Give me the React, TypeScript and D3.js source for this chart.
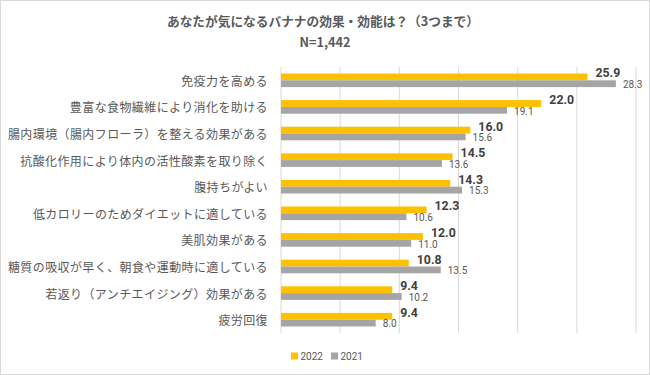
import React from "react";
import * as d3 from "d3";

const categories = [
  "免疫力を高める",
  "豊富な食物繊維により消化を助ける",
  "腸内環境（腸内フローラ）を整える効果がある",
  "抗酸化作用により体内の活性酸素を取り除く",
  "腹持ちがよい",
  "低カロリーのためダイエットに適している",
  "美肌効果がある",
  "糖質の吸収が早く、朝食や運動時に適している",
  "若返り（アンチエイジング）効果がある",
  "疲労回復",
];
const values2022 = [25.9, 22.0, 16.0, 14.5, 14.3, 12.3, 12.0, 10.8, 9.4, 9.4];
const values2021 = [28.3, 19.1, 15.6, 13.6, 15.3, 10.6, 11.0, 13.5, 10.2, 8.0];
const seriesNames = ["2022", "2021"];
const xTicks = [0, 5, 10, 15, 20, 25, 30];
const title = "あなたが気になるバナナの効果・効能は？（3つまで）";
const subtitle = "N=1,442";

const W = 650;
const H = 375;
const C2022 = "#FFC000";
const C2021 = "#A5A5A5";
const GRID = "#D9D9D9";
const TXT = "#595959";
const CJK = "'Noto Sans CJK JP', 'Noto Sans', sans-serif";
const NUM = "Roboto, 'Liberation Sans', sans-serif";

export default function App() {
  const x = d3.scaleLinear().domain([0, 30]).range([281, 636]);
  const y = d3.scaleBand<string>().domain(categories).range([67, 333]).paddingInner(0);
  const bh = 6.8;
  const fmt = d3.format(".1f");

  return (
    <svg
      width={W}
      height={H}
      style={{ position: "absolute", left: 0, top: 0, background: "#fff" }}
    >
      <rect x={0.5} y={0.5} width={W - 1} height={H - 1} fill="#fff" stroke={GRID} />
      <text
        x={323}
        y={20}
        textAnchor="middle"
        dominantBaseline="central"
        fontFamily={CJK}
        fontWeight="bold"
        fontSize={12.7}
        fill={TXT}
      >
        {title}
      </text>
      <text
        x={325}
        y={41}
        textAnchor="middle"
        dominantBaseline="central"
        fontFamily={CJK}
        fontWeight="bold"
        fontSize={12.7}
        fill={TXT}
      >
        {subtitle}
      </text>

      {xTicks.map((t) => (
        <line key={t} x1={x(t)} x2={x(t)} y1={67} y2={333} stroke={GRID} strokeWidth={1} />
      ))}

      {categories.map((c, i) => {
        const cy = (y(c) as number) + y.bandwidth() / 2;
        return (
          <g key={c}>
            <text
              x={268}
              y={cy}
              textAnchor="end"
              dominantBaseline="central"
              fontFamily={CJK}
              fontSize={12}
              letterSpacing={0.4}
              fill={TXT}
            >
              {c}
            </text>
            <rect x={x(0)} y={cy - bh} width={x(values2022[i]) - x(0)} height={bh} fill={C2022} />
            <rect x={x(0)} y={cy} width={x(values2021[i]) - x(0)} height={bh} fill={C2021} />
            <text
              x={x(values2022[i]) + 8}
              y={cy - bh / 2 - 3.5}
              dominantBaseline="central"
              fontFamily={NUM}
              fontWeight="bold"
              fontSize={12.3}
              fill="#404040"
            >
              {fmt(values2022[i])}
            </text>
            <text
              x={x(values2021[i]) + 7}
              y={cy + bh / 2 + 0.8}
              dominantBaseline="central"
              fontFamily={NUM}
              fontSize={10}
              fill={TXT}
            >
              {fmt(values2021[i])}
            </text>
          </g>
        );
      })}

      {seriesNames.map((s, i) => {
        const lx = 291 + i * 40;
        return (
          <g key={s}>
            <rect x={lx} y={352.5} width={7} height={7} fill={i === 0 ? C2022 : C2021} />
            <text
              x={lx + 9.5}
              y={356}
              dominantBaseline="central"
              fontFamily={NUM}
              fontSize={10}
              fill={TXT}
            >
              {s}
            </text>
          </g>
        );
      })}
    </svg>
  );
}
